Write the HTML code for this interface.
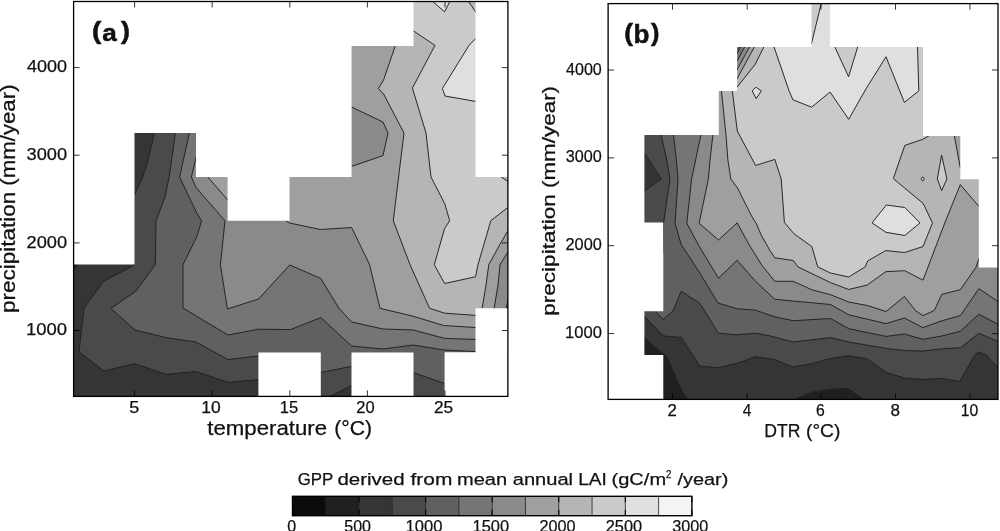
<!DOCTYPE html>
<html><head><meta charset="utf-8"><title>GPP contour plots</title>
<style>html,body{margin:0;padding:0;background:#fff;}body{width:1000px;height:531px;position:relative;overflow:hidden;font-family:"Liberation Sans",sans-serif;}</style></head>
<body>
<svg width="1000" height="531" viewBox="0 0 1000 531" style="display:block;position:absolute;left:0;top:0">
<rect width="1000" height="531" fill="#fff"/>
<clipPath id="ca"><rect x="73.6" y="1.5" width="434.29999999999995" height="394.9"/></clipPath>
<g clip-path="url(#ca)">
<polygon points="60.0,-10.0 530.0,-10.0 530.0,410.0 60.0,410.0" fill="#353535"/>
<polygon points="80.6,261.5 78.0,264.6 73.5,270.0 70.9,273.1 60.0,275.0 60.0,260.0" fill="#202020"/>
<polygon points="155.3,129.1 154.4,133.0 147.0,164.0 142.0,179.0 134.4,195.0 120.0,210.0 120.0,250.0 134.4,265.0 104.0,281.0 84.0,308.0 79.0,352.0 104.0,371.0 134.4,363.6 166.0,374.4 196.0,371.4 228.0,382.4 258.4,379.6 289.6,390.0 320.8,400.0 331.0,396.0 351.4,385.6 383.0,392.0 413.4,402.0 417.2,403.2 530.0,402.0 530.0,-10.0 154.4,-10.0" fill="#4a4a4a"/>
<polygon points="176.0,129.0 175.4,133.0 169.2,177.0 165.0,197.0 156.0,220.8 155.4,264.6 136.0,291.0 111.0,308.5 135.0,330.0 166.0,337.6 196.0,342.0 228.0,359.6 258.4,356.0 320.8,372.4 351.4,366.4 413.4,372.6 444.5,383.5 475.0,400.0 478.5,401.9 530.0,400.0 530.0,-10.0 175.4,-10.0" fill="#606060"/>
<polygon points="190.3,129.1 189.4,133.0 179.6,177.0 196.7,213.0 201.6,220.8 196.7,237.0 183.0,264.6 183.0,308.0 228.0,335.0 258.4,329.2 290.4,329.6 320.8,317.6 351.6,346.0 383.0,349.0 413.0,345.0 444.3,350.0 476.0,351.6 510.0,352.0 514.0,352.0 530.0,352.0 530.0,-10.0 189.4,-10.0" fill="#757575"/>
<polygon points="200.9,136.1 200.0,140.0 196.4,156.0 191.4,177.0 196.0,187.5 225.0,220.8 220.4,264.6 227.4,309.0 258.6,299.0 289.7,265.0 320.7,278.4 339.0,308.3 351.6,322.0 383.0,329.0 413.4,330.0 444.2,338.3 476.0,339.5 492.0,338.0 503.0,325.0 506.2,308.2 507.2,303.5 512.0,290.0 513.3,286.2 530.0,290.0 530.0,-10.0 200.0,-10.0" fill="#8a8a8a"/>
<polygon points="205.0,173.8 207.6,176.8 227.7,200.0 240.0,210.0 280.0,214.0 286.0,220.7 289.6,223.0 320.4,229.5 351.6,227.5 369.6,264.6 380.0,308.3 413.4,316.3 443.6,325.5 476.0,327.5 487.0,325.0 494.2,308.2 498.0,285.0 500.0,264.6 507.2,253.0 515.0,245.0 517.8,242.1 530.0,245.0 530.0,-10.0 207.6,-10.0" fill="#9f9f9f"/>
<polygon points="340.0,110.0 351.6,107.0 383.0,122.0 388.0,133.0 383.0,155.6 351.6,166.4 340.0,160.0" fill="#8a8a8a"/>
<polygon points="396.7,41.6 395.4,45.4 383.6,80.0 378.4,88.5 383.6,94.0 404.0,133.0 398.6,177.0 393.3,220.8 410.0,264.6 429.5,308.2 444.6,313.2 476.0,315.4 479.0,314.0 482.2,308.2 486.0,285.0 488.8,264.6 499.6,245.0 507.2,232.0 515.0,222.0 517.5,218.8 530.0,222.0 530.0,-10.0 395.4,-10.0" fill="#b5b5b5"/>
<polygon points="401.7,22.7 405.0,25.0 413.6,31.0 435.0,45.4 412.4,88.0 426.0,133.0 431.0,177.0 444.7,203.6 449.7,220.7 444.6,228.5 434.3,264.6 444.6,283.5 475.5,276.8 478.0,264.6 490.8,220.7 507.2,208.0 515.0,202.0 518.2,199.6 530.0,202.0 530.0,-10.0 405.0,-10.0" fill="#cacaca"/>
<polygon points="497.8,174.6 501.1,176.9 508.0,181.6 511.3,183.9 515.0,186.0 515.0,170.0 501.0,170.0" fill="#b5b5b5"/>
<polygon points="488.0,27.3 485.0,30.0 475.6,38.6 469.0,45.4 442.4,88.5 445.0,96.0 475.6,101.4 485.0,103.0 488.9,103.7" fill="#dfdfdf"/>
<polygon points="428.0,-2.6 431.0,0.0 444.6,11.8 450.6,0.0 452.4,-3.6" fill="#dfdfdf"/>
<polygon points="465.1,-3.3 467.4,0.0 475.6,11.8 480.0,18.0 482.3,21.3 485.0,18.0 485.0,-5.0" fill="#b5b5b5"/>
<g stroke="#202020" stroke-width="0.95" stroke-linejoin="round">
<polygon points="60.0,-10.0 530.0,-10.0 530.0,410.0 60.0,410.0" fill="none"/>
<polyline points="80.6,261.5 78.0,264.6 73.5,270.0 70.9,273.1" fill="none"/>
<polyline points="155.3,129.1 154.4,133.0 147.0,164.0 142.0,179.0 134.4,195.0 120.0,210.0 120.0,250.0 134.4,265.0 104.0,281.0 84.0,308.0 79.0,352.0 104.0,371.0 134.4,363.6 166.0,374.4 196.0,371.4 228.0,382.4 258.4,379.6 289.6,390.0 320.8,400.0 331.0,396.0 351.4,385.6 383.0,392.0 413.4,402.0 417.2,403.2" fill="none"/>
<polyline points="176.0,129.0 175.4,133.0 169.2,177.0 165.0,197.0 156.0,220.8 155.4,264.6 136.0,291.0 111.0,308.5 135.0,330.0 166.0,337.6 196.0,342.0 228.0,359.6 258.4,356.0 320.8,372.4 351.4,366.4 413.4,372.6 444.5,383.5 475.0,400.0 478.5,401.9" fill="none"/>
<polyline points="190.3,129.1 189.4,133.0 179.6,177.0 196.7,213.0 201.6,220.8 196.7,237.0 183.0,264.6 183.0,308.0 228.0,335.0 258.4,329.2 290.4,329.6 320.8,317.6 351.6,346.0 383.0,349.0 413.0,345.0 444.3,350.0 476.0,351.6 510.0,352.0 514.0,352.0" fill="none"/>
<polyline points="200.9,136.1 200.0,140.0 196.4,156.0 191.4,177.0 196.0,187.5 225.0,220.8 220.4,264.6 227.4,309.0 258.6,299.0 289.7,265.0 320.7,278.4 339.0,308.3 351.6,322.0 383.0,329.0 413.4,330.0 444.2,338.3 476.0,339.5 492.0,338.0 503.0,325.0 506.2,308.2 507.2,303.5 512.0,290.0 513.3,286.2" fill="none"/>
<polyline points="205.0,173.8 207.6,176.8 227.7,200.0 240.0,210.0 280.0,214.0 286.0,220.7 289.6,223.0 320.4,229.5 351.6,227.5 369.6,264.6 380.0,308.3 413.4,316.3 443.6,325.5 476.0,327.5 487.0,325.0 494.2,308.2 498.0,285.0 500.0,264.6 507.2,253.0 515.0,245.0 517.8,242.1" fill="none"/>
<polygon points="340.0,110.0 351.6,107.0 383.0,122.0 388.0,133.0 383.0,155.6 351.6,166.4 340.0,160.0" fill="none"/>
<polyline points="396.7,41.6 395.4,45.4 383.6,80.0 378.4,88.5 383.6,94.0 404.0,133.0 398.6,177.0 393.3,220.8 410.0,264.6 429.5,308.2 444.6,313.2 476.0,315.4 479.0,314.0 482.2,308.2 486.0,285.0 488.8,264.6 499.6,245.0 507.2,232.0 515.0,222.0 517.5,218.8" fill="none"/>
<polyline points="401.7,22.7 405.0,25.0 413.6,31.0 435.0,45.4 412.4,88.0 426.0,133.0 431.0,177.0 444.7,203.6 449.7,220.7 444.6,228.5 434.3,264.6 444.6,283.5 475.5,276.8 478.0,264.6 490.8,220.7 507.2,208.0 515.0,202.0 518.2,199.6" fill="none"/>
<polyline points="497.8,174.6 501.1,176.9 508.0,181.6 511.3,183.9" fill="none"/>
<polyline points="488.0,27.3 485.0,30.0 475.6,38.6 469.0,45.4 442.4,88.5 445.0,96.0 475.6,101.4 485.0,103.0 488.9,103.7" fill="none"/>
<polyline points="428.0,-2.6 431.0,0.0 444.6,11.8 450.6,0.0 452.4,-3.6" fill="none"/>
<polyline points="465.1,-3.3 467.4,0.0 475.6,11.8 480.0,18.0 482.3,21.3" fill="none"/>
</g>
<g fill="#fff">
<polygon points="60.0,-10.0 413.5,-10.0 413.5,46.0 351.6,46.0 351.6,177.0 289.5,177.0 289.5,220.7 227.6,220.7 227.6,177.0 196.0,177.0 196.0,133.0 134.5,133.0 134.5,264.5 60.0,264.5"/>
<polygon points="475.5,-10.0 520.0,-10.0 520.0,177.0 475.5,177.0"/>
<polygon points="475.5,308.3 520.0,308.3 520.0,410.0 444.6,410.0 444.6,352.2 475.5,352.2"/>
<polygon points="351.5,352.4 413.5,352.4 413.5,410.0 351.5,410.0"/>
<polygon points="258.4,352.4 320.8,352.4 320.8,410.0 258.4,410.0"/>
</g>
</g>
<clipPath id="cb"><rect x="608.1" y="3.6" width="389.9" height="395.79999999999995"/></clipPath>
<g clip-path="url(#cb)">
<polygon points="590.0,-10.0 1010.0,-10.0 1010.0,410.0 590.0,410.0" fill="#202020"/>
<polygon points="627.0,322.8 630.0,325.4 644.5,338.0 663.3,354.3 666.7,356.8 681.2,389.7 687.4,398.8 691.0,405.0 693.0,408.5 1010.0,405.0 1010.0,-10.0 630.0,-10.0" fill="#353535"/>
<polygon points="790.9,408.4 793.0,405.0 796.8,398.8 811.2,392.4 830.4,389.2 848.0,388.4 862.4,398.8 868.0,405.0 870.7,408.0" fill="#202020"/>
<polygon points="627.2,298.1 630.0,301.0 644.5,316.3 663.3,336.0 681.2,337.4 699.7,366.0 718.5,367.7 736.4,363.4 755.8,356.8 774.4,359.6 793.0,367.0 811.4,363.7 830.4,358.5 848.3,355.9 867.2,358.8 886.2,372.4 904.7,378.0 922.8,379.5 941.4,378.3 959.5,381.6 975.2,354.5 979.0,352.0 986.6,355.4 998.0,367.7 1010.0,380.0 1012.8,382.9 1010.0,-10.0 630.0,-10.0" fill="#4a4a4a"/>
<polygon points="633.8,136.6 636.0,140.0 644.4,153.0 661.2,179.0 644.4,191.2 636.0,197.0 632.7,199.3" fill="#353535"/>
<polygon points="660.3,131.2 661.2,135.1 666.8,160.0 670.0,179.0 663.5,223.3 663.2,253.0 650.0,270.0 650.0,300.0 655.6,311.3 663.0,319.5 673.0,310.8 681.2,291.3 699.6,303.0 718.5,333.2 736.4,334.8 755.2,333.2 770.0,335.9 793.2,342.0 830.5,337.7 848.7,342.0 886.0,348.4 904.4,350.5 922.8,351.1 942.7,348.7 960.4,347.8 978.9,333.3 998.5,341.6 1010.0,346.5 1013.7,348.1 1010.0,-10.0 661.2,-10.0" fill="#606060"/>
<polygon points="673.0,131.1 673.5,135.1 676.4,160.0 678.0,179.0 675.1,223.3 681.2,244.6 699.6,272.6 718.0,303.0 736.4,308.6 755.6,310.2 774.0,316.6 793.2,320.7 830.5,318.5 848.7,328.7 886.0,336.4 904.4,334.0 922.8,339.3 941.8,336.0 960.4,331.2 978.9,314.2 998.5,324.6 1010.0,330.0 1013.6,331.7 1010.0,-10.0 673.5,-10.0" fill="#757575"/>
<polygon points="701.7,131.2 700.9,135.1 695.6,160.0 691.6,179.0 686.8,223.3 699.6,247.0 718.5,278.2 737.2,260.3 755.6,281.4 774.8,299.3 830.5,304.5 848.7,314.8 886.0,323.6 904.4,318.0 922.8,327.6 941.8,320.8 960.4,315.6 978.9,288.7 998.5,301.8 1010.0,309.0 1013.4,311.1 1010.0,-10.0 700.9,-10.0" fill="#8a8a8a"/>
<polygon points="713.4,131.1 712.9,135.1 710.0,160.0 708.4,179.0 699.1,223.3 718.5,239.9 737.2,222.9 749.2,244.8 762.0,265.4 774.8,281.3 793.2,281.3 811.9,289.8 830.5,294.7 848.7,302.0 867.3,305.5 886.1,311.5 904.4,296.5 915.4,310.6 923.1,315.6 934.3,310.5 941.8,294.3 960.4,289.7 976.0,267.2 978.9,258.7 985.0,245.0 986.6,241.3 1010.0,245.0 1010.0,-10.0 712.9,-10.0" fill="#9f9f9f"/>
<polygon points="720.1,78.0 720.5,82.0 721.5,91.4 726.0,135.1 727.9,160.0 730.8,179.0 737.5,188.0 751.6,216.0 756.5,224.0 761.2,235.0 770.0,250.6 774.8,257.8 793.2,260.5 798.0,266.9 830.5,282.6 848.7,289.5 867.3,285.0 885.7,271.7 904.7,270.7 923.0,280.1 944.8,222.9 960.3,184.6 978.7,206.2 987.0,215.0 987.0,150.0 960.3,167.8 954.4,136.0 952.0,122.0 951.3,118.1 952.0,-10.0 720.5,-10.0" fill="#b5b5b5"/>
<polygon points="730.9,79.0 731.4,83.0 732.4,91.4 737.3,131.0 755.6,165.5 774.8,159.4 781.2,179.0 784.4,222.4 794.0,233.8 811.9,246.6 817.7,266.9 830.5,273.0 848.7,277.0 865.2,266.9 867.6,261.0 885.7,250.6 904.7,252.5 923.0,246.5 932.5,222.9 923.2,203.5 893.3,178.6 904.8,145.4 922.9,139.3 928.8,136.0 936.0,128.0 938.7,125.0 936.0,-10.0 731.4,-10.0" fill="#cacaca"/>
<polygon points="941.6,155.0 946.9,178.9 941.6,190.6 937.3,178.9" fill="#cacaca"/>
<polygon points="924.1,178.9 923.9,179.8 923.4,180.5 922.7,180.7 922.0,180.5 921.5,179.8 921.3,178.9 921.5,178.0 922.0,177.3 922.7,177.1 923.4,177.3 923.9,178.0" fill="#cacaca"/>
<polygon points="763.8,47.0 755.2,64.4 737.0,87.2 732.4,91.4 725.0,91.0 725.0,40.0 763.8,40.0" fill="#b5b5b5"/>
<polygon points="756.2,43.5 754.3,47.0 737.0,78.9 735.1,82.4 725.0,85.0 725.0,40.0" fill="#9f9f9f"/>
<polygon points="751.4,43.5 749.5,47.0 737.0,69.7 735.1,73.2 725.0,75.0 725.0,40.0" fill="#8a8a8a"/>
<polygon points="746.6,43.5 744.7,47.0 737.0,61.0 735.1,64.5 725.0,66.0 725.0,40.0" fill="#757575"/>
<polygon points="742.7,43.6 740.7,47.0 737.0,53.2 735.0,56.6 725.0,58.0 725.0,40.0" fill="#606060"/>
<polygon points="822.0,-2.0 821.1,4.0 811.5,43.5 800.0,40.0 774.0,46.9 789.2,91.2 792.9,99.7 811.6,107.2 830.0,92.0 848.7,119.3 866.0,88.8 886.0,56.8 904.4,102.4 918.8,90.9 917.5,46.9 917.4,30.0 840.0,30.0 840.0,-10.0" fill="#dfdfdf"/>
<polygon points="832.5,42.0 834.8,46.9 848.6,76.8 857.7,46.9 859.0,42.0" fill="#cacaca"/>
<polygon points="872.0,222.9 886.4,205.0 904.8,207.5 920.0,222.9 904.8,235.5 886.0,232.3" fill="#dfdfdf"/>
<polygon points="755.9,87.2 761.4,90.9 756.1,98.6 752.2,90.9" fill="#dfdfdf"/>
<g stroke="#202020" stroke-width="0.95" stroke-linejoin="round">
<polygon points="590.0,-10.0 1010.0,-10.0 1010.0,410.0 590.0,410.0" fill="none"/>
<polyline points="627.0,322.8 630.0,325.4 644.5,338.0 663.3,354.3 666.7,356.8 681.2,389.7 687.4,398.8 691.0,405.0 693.0,408.5" fill="none"/>
<polyline points="790.9,408.4 793.0,405.0 796.8,398.8 811.2,392.4 830.4,389.2 848.0,388.4 862.4,398.8 868.0,405.0 870.7,408.0" fill="none"/>
<polyline points="627.2,298.1 630.0,301.0 644.5,316.3 663.3,336.0 681.2,337.4 699.7,366.0 718.5,367.7 736.4,363.4 755.8,356.8 774.4,359.6 793.0,367.0 811.4,363.7 830.4,358.5 848.3,355.9 867.2,358.8 886.2,372.4 904.7,378.0 922.8,379.5 941.4,378.3 959.5,381.6 975.2,354.5 979.0,352.0 986.6,355.4 998.0,367.7 1010.0,380.0 1012.8,382.9" fill="none"/>
<polyline points="633.8,136.6 636.0,140.0 644.4,153.0 661.2,179.0 644.4,191.2 636.0,197.0 632.7,199.3" fill="none"/>
<polyline points="660.3,131.2 661.2,135.1 666.8,160.0 670.0,179.0 663.5,223.3 663.2,253.0 650.0,270.0 650.0,300.0 655.6,311.3 663.0,319.5 673.0,310.8 681.2,291.3 699.6,303.0 718.5,333.2 736.4,334.8 755.2,333.2 770.0,335.9 793.2,342.0 830.5,337.7 848.7,342.0 886.0,348.4 904.4,350.5 922.8,351.1 942.7,348.7 960.4,347.8 978.9,333.3 998.5,341.6 1010.0,346.5 1013.7,348.1" fill="none"/>
<polyline points="673.0,131.1 673.5,135.1 676.4,160.0 678.0,179.0 675.1,223.3 681.2,244.6 699.6,272.6 718.0,303.0 736.4,308.6 755.6,310.2 774.0,316.6 793.2,320.7 830.5,318.5 848.7,328.7 886.0,336.4 904.4,334.0 922.8,339.3 941.8,336.0 960.4,331.2 978.9,314.2 998.5,324.6 1010.0,330.0 1013.6,331.7" fill="none"/>
<polyline points="701.7,131.2 700.9,135.1 695.6,160.0 691.6,179.0 686.8,223.3 699.6,247.0 718.5,278.2 737.2,260.3 755.6,281.4 774.8,299.3 830.5,304.5 848.7,314.8 886.0,323.6 904.4,318.0 922.8,327.6 941.8,320.8 960.4,315.6 978.9,288.7 998.5,301.8 1010.0,309.0 1013.4,311.1" fill="none"/>
<polyline points="713.4,131.1 712.9,135.1 710.0,160.0 708.4,179.0 699.1,223.3 718.5,239.9 737.2,222.9 749.2,244.8 762.0,265.4 774.8,281.3 793.2,281.3 811.9,289.8 830.5,294.7 848.7,302.0 867.3,305.5 886.1,311.5 904.4,296.5 915.4,310.6 923.1,315.6 934.3,310.5 941.8,294.3 960.4,289.7 976.0,267.2 978.9,258.7 985.0,245.0 986.6,241.3" fill="none"/>
<polyline points="720.1,78.0 720.5,82.0 721.5,91.4 726.0,135.1 727.9,160.0 730.8,179.0 737.5,188.0 751.6,216.0 756.5,224.0 761.2,235.0 770.0,250.6 774.8,257.8 793.2,260.5 798.0,266.9 830.5,282.6 848.7,289.5 867.3,285.0 885.7,271.7 904.7,270.7 923.0,280.1 944.8,222.9 960.3,184.6 978.7,206.2 987.0,215.0 987.0,150.0 960.3,167.8 954.4,136.0 952.0,122.0 951.3,118.1" fill="none"/>
<polyline points="730.9,79.0 731.4,83.0 732.4,91.4 737.3,131.0 755.6,165.5 774.8,159.4 781.2,179.0 784.4,222.4 794.0,233.8 811.9,246.6 817.7,266.9 830.5,273.0 848.7,277.0 865.2,266.9 867.6,261.0 885.7,250.6 904.7,252.5 923.0,246.5 932.5,222.9 923.2,203.5 893.3,178.6 904.8,145.4 922.9,139.3 928.8,136.0 936.0,128.0 938.7,125.0" fill="none"/>
<polygon points="941.6,155.0 946.9,178.9 941.6,190.6 937.3,178.9" fill="none"/>
<polygon points="924.1,178.9 923.9,179.8 923.4,180.5 922.7,180.7 922.0,180.5 921.5,179.8 921.3,178.9 921.5,178.0 922.0,177.3 922.7,177.1 923.4,177.3 923.9,178.0" fill="none"/>
<polyline points="763.8,47.0 755.2,64.4 737.0,87.2 732.4,91.4" fill="none"/>
<polyline points="756.2,43.5 754.3,47.0 737.0,78.9 735.1,82.4" fill="none"/>
<polyline points="751.4,43.5 749.5,47.0 737.0,69.7 735.1,73.2" fill="none"/>
<polyline points="746.6,43.5 744.7,47.0 737.0,61.0 735.1,64.5" fill="none"/>
<polyline points="742.7,43.6 740.7,47.0 737.0,53.2 735.0,56.6" fill="none"/>
<polyline points="822.0,-2.0 821.1,4.0 811.5,43.5 800.0,40.0 774.0,46.9 789.2,91.2 792.9,99.7 811.6,107.2 830.0,92.0 848.7,119.3 866.0,88.8 886.0,56.8 904.4,102.4 918.8,90.9 917.5,46.9 917.4,30.0" fill="none"/>
<polyline points="832.5,42.0 834.8,46.9 848.6,76.8 857.7,46.9 859.0,42.0" fill="none"/>
<polygon points="872.0,222.9 886.4,205.0 904.8,207.5 920.0,222.9 904.8,235.5 886.0,232.3" fill="none"/>
<polygon points="755.9,87.2 761.4,90.9 756.1,98.6 752.2,90.9" fill="none"/>
</g>
<g fill="#fff">
<polygon points="590.0,-10.0 811.5,-10.0 811.5,47.0 737.1,47.0 737.1,91.0 718.8,91.0 718.8,135.1 644.4,135.1 644.4,222.4 663.3,222.4 663.3,311.2 644.4,311.2 644.4,354.9 663.3,354.9 663.3,410.0 590.0,410.0"/>
<polygon points="830.0,-10.0 1010.0,-10.0 1010.0,267.4 978.8,267.4 978.8,179.3 960.3,179.3 960.3,136.0 923.0,136.0 923.0,47.0 830.0,47.0"/>
</g>
</g>
<rect x="73.6" y="1.5" width="434.29999999999995" height="394.9" fill="none" stroke="#000" stroke-width="1.3"/>
<g stroke="#000" stroke-width="0.8">
<line x1="134.6" y1="396.4" x2="134.6" y2="390.4"/>
<line x1="134.6" y1="1.5" x2="134.6" y2="7.5"/>
<line x1="212.2" y1="396.4" x2="212.2" y2="390.4"/>
<line x1="212.2" y1="1.5" x2="212.2" y2="7.5"/>
<line x1="289.8" y1="396.4" x2="289.8" y2="390.4"/>
<line x1="289.8" y1="1.5" x2="289.8" y2="7.5"/>
<line x1="367.4" y1="396.4" x2="367.4" y2="390.4"/>
<line x1="367.4" y1="1.5" x2="367.4" y2="7.5"/>
<line x1="445.0" y1="396.4" x2="445.0" y2="390.4"/>
<line x1="445.0" y1="1.5" x2="445.0" y2="7.5"/>
<line x1="73.6" y1="67.6" x2="79.6" y2="67.6"/>
<line x1="507.9" y1="67.6" x2="501.9" y2="67.6"/>
<line x1="73.6" y1="155.2" x2="79.6" y2="155.2"/>
<line x1="507.9" y1="155.2" x2="501.9" y2="155.2"/>
<line x1="73.6" y1="242.9" x2="79.6" y2="242.9"/>
<line x1="507.9" y1="242.9" x2="501.9" y2="242.9"/>
<line x1="73.6" y1="330.5" x2="79.6" y2="330.5"/>
<line x1="507.9" y1="330.5" x2="501.9" y2="330.5"/>
</g>
<rect x="608.1" y="3.6" width="389.9" height="395.79999999999995" fill="none" stroke="#000" stroke-width="1.3"/>
<g stroke="#000" stroke-width="0.8">
<line x1="672.5" y1="399.4" x2="672.5" y2="393.4"/>
<line x1="672.5" y1="3.6" x2="672.5" y2="9.6"/>
<line x1="747.2" y1="399.4" x2="747.2" y2="393.4"/>
<line x1="747.2" y1="3.6" x2="747.2" y2="9.6"/>
<line x1="821.0" y1="399.4" x2="821.0" y2="393.4"/>
<line x1="821.0" y1="3.6" x2="821.0" y2="9.6"/>
<line x1="895.5" y1="399.4" x2="895.5" y2="393.4"/>
<line x1="895.5" y1="3.6" x2="895.5" y2="9.6"/>
<line x1="969.9" y1="399.4" x2="969.9" y2="393.4"/>
<line x1="969.9" y1="3.6" x2="969.9" y2="9.6"/>
<line x1="608.1" y1="70.0" x2="614.1" y2="70.0"/>
<line x1="998.0" y1="70.0" x2="992.0" y2="70.0"/>
<line x1="608.1" y1="157.9" x2="614.1" y2="157.9"/>
<line x1="998.0" y1="157.9" x2="992.0" y2="157.9"/>
<line x1="608.1" y1="245.7" x2="614.1" y2="245.7"/>
<line x1="998.0" y1="245.7" x2="992.0" y2="245.7"/>
<line x1="608.1" y1="333.6" x2="614.1" y2="333.6"/>
<line x1="998.0" y1="333.6" x2="992.0" y2="333.6"/>
</g>
<rect x="292.50" y="496.3" width="33.58" height="19.4" fill="#0b0b0b"/>
<rect x="325.78" y="496.3" width="33.58" height="19.4" fill="#202020"/>
<rect x="359.07" y="496.3" width="33.58" height="19.4" fill="#353535"/>
<rect x="392.35" y="496.3" width="33.58" height="19.4" fill="#4a4a4a"/>
<rect x="425.63" y="496.3" width="33.58" height="19.4" fill="#606060"/>
<rect x="458.92" y="496.3" width="33.58" height="19.4" fill="#757575"/>
<rect x="492.20" y="496.3" width="33.58" height="19.4" fill="#8a8a8a"/>
<rect x="525.48" y="496.3" width="33.58" height="19.4" fill="#9f9f9f"/>
<rect x="558.77" y="496.3" width="33.58" height="19.4" fill="#b5b5b5"/>
<rect x="592.05" y="496.3" width="33.58" height="19.4" fill="#cacaca"/>
<rect x="625.33" y="496.3" width="33.58" height="19.4" fill="#dfdfdf"/>
<rect x="658.62" y="496.3" width="33.58" height="19.4" fill="#f4f4f4"/>
<g stroke="#202020" stroke-width="0.8">
<line x1="325.78" y1="496.3" x2="325.78" y2="515.7"/>
<line x1="359.07" y1="496.3" x2="359.07" y2="515.7"/>
<line x1="392.35" y1="496.3" x2="392.35" y2="515.7"/>
<line x1="425.63" y1="496.3" x2="425.63" y2="515.7"/>
<line x1="458.92" y1="496.3" x2="458.92" y2="515.7"/>
<line x1="492.20" y1="496.3" x2="492.20" y2="515.7"/>
<line x1="525.48" y1="496.3" x2="525.48" y2="515.7"/>
<line x1="558.77" y1="496.3" x2="558.77" y2="515.7"/>
<line x1="592.05" y1="496.3" x2="592.05" y2="515.7"/>
<line x1="625.33" y1="496.3" x2="625.33" y2="515.7"/>
<line x1="658.62" y1="496.3" x2="658.62" y2="515.7"/>
</g>
<g stroke="#000" stroke-width="1.1">
<line x1="292.50" y1="496.3" x2="292.50" y2="502.3"/>
<line x1="292.50" y1="515.7" x2="292.50" y2="509.70000000000005"/>
<line x1="359.07" y1="496.3" x2="359.07" y2="502.3"/>
<line x1="359.07" y1="515.7" x2="359.07" y2="509.70000000000005"/>
<line x1="425.63" y1="496.3" x2="425.63" y2="502.3"/>
<line x1="425.63" y1="515.7" x2="425.63" y2="509.70000000000005"/>
<line x1="492.20" y1="496.3" x2="492.20" y2="502.3"/>
<line x1="492.20" y1="515.7" x2="492.20" y2="509.70000000000005"/>
<line x1="558.77" y1="496.3" x2="558.77" y2="502.3"/>
<line x1="558.77" y1="515.7" x2="558.77" y2="509.70000000000005"/>
<line x1="625.33" y1="496.3" x2="625.33" y2="502.3"/>
<line x1="625.33" y1="515.7" x2="625.33" y2="509.70000000000005"/>
<line x1="691.90" y1="496.3" x2="691.90" y2="502.3"/>
<line x1="691.90" y1="515.7" x2="691.90" y2="509.70000000000005"/>
</g>
<rect x="292.5" y="496.3" width="399.4" height="19.4" fill="none" stroke="#000" stroke-width="1.4"/>
<g style="filter:grayscale(1)">
<text x="27.0" y="72.2" font-size="16.7" font-family="Liberation Sans, sans-serif" text-anchor="start" textLength="40.03" lengthAdjust="spacingAndGlyphs" fill="#111" stroke="#111" stroke-width="0.25">4000</text>
<text x="26.5" y="159.85" font-size="16.7" font-family="Liberation Sans, sans-serif" text-anchor="start" textLength="40.55" lengthAdjust="spacingAndGlyphs" fill="#111" stroke="#111" stroke-width="0.25">3000</text>
<text x="26.5" y="247.5" font-size="16.7" font-family="Liberation Sans, sans-serif" text-anchor="start" textLength="40.56" lengthAdjust="spacingAndGlyphs" fill="#111" stroke="#111" stroke-width="0.25">2000</text>
<text x="26.0" y="335.15" font-size="16.7" font-family="Liberation Sans, sans-serif" text-anchor="start" textLength="41.11" lengthAdjust="spacingAndGlyphs" fill="#111" stroke="#111" stroke-width="0.25">1000</text>
<text x="129.25" y="413.0" font-size="16.7" font-family="Liberation Sans, sans-serif" text-anchor="start" textLength="10.02" lengthAdjust="spacingAndGlyphs" fill="#111" stroke="#111" stroke-width="0.25">5</text>
<text x="201.25" y="413.0" font-size="16.7" font-family="Liberation Sans, sans-serif" text-anchor="start" textLength="19.45" lengthAdjust="spacingAndGlyphs" fill="#111" stroke="#111" stroke-width="0.25">10</text>
<text x="279.75" y="413.0" font-size="16.7" font-family="Liberation Sans, sans-serif" text-anchor="start" textLength="18.46" lengthAdjust="spacingAndGlyphs" fill="#111" stroke="#111" stroke-width="0.25">15</text>
<text x="356.25" y="413.0" font-size="16.7" font-family="Liberation Sans, sans-serif" text-anchor="start" textLength="18.35" lengthAdjust="spacingAndGlyphs" fill="#111" stroke="#111" stroke-width="0.25">20</text>
<text x="434.0" y="413.0" font-size="16.7" font-family="Liberation Sans, sans-serif" text-anchor="start" textLength="19.14" lengthAdjust="spacingAndGlyphs" fill="#111" stroke="#111" stroke-width="0.25">25</text>
<text x="207.25" y="434.5" font-size="19.7" font-family="Liberation Sans, sans-serif" text-anchor="start" textLength="119.77" lengthAdjust="spacingAndGlyphs" fill="#111" stroke="#111" stroke-width="0.25">temperature</text>
<text x="334.25" y="434.5" font-size="19.7" font-family="Liberation Sans, sans-serif" text-anchor="start" textLength="37.92" lengthAdjust="spacingAndGlyphs" fill="#111" stroke="#111" stroke-width="0.25">(°C)</text>
<text x="14.9" y="313.0" font-size="19.7" font-family="Liberation Sans, sans-serif" text-anchor="start" textLength="121.32" lengthAdjust="spacingAndGlyphs" transform="rotate(-90 14.9 313.0)" fill="#111" stroke="#111" stroke-width="0.25">precipitation</text>
<text x="14.9" y="185.75" font-size="19.7" font-family="Liberation Sans, sans-serif" text-anchor="start" textLength="101.32" lengthAdjust="spacingAndGlyphs" transform="rotate(-90 14.9 185.75)" fill="#111" stroke="#111" stroke-width="0.25">(mm/year)</text>
<text x="92.0" y="39.0" font-size="23.0" font-family="Liberation Sans, sans-serif" text-anchor="start" font-weight="bold" textLength="9.31" lengthAdjust="spacingAndGlyphs" fill="#111" stroke="#111" stroke-width="0.5">(</text>
<text x="102.25" y="40.8" font-size="24.8" font-family="Liberation Sans, sans-serif" text-anchor="start" font-weight="bold" textLength="14.52" lengthAdjust="spacingAndGlyphs" fill="#111" stroke="#111" stroke-width="0.5">a</text>
<text x="121.0" y="39.0" font-size="23.0" font-family="Liberation Sans, sans-serif" text-anchor="start" font-weight="bold" textLength="8.95" lengthAdjust="spacingAndGlyphs" fill="#111" stroke="#111" stroke-width="0.5">)</text>
<text x="566.0" y="74.6" font-size="16.7" font-family="Liberation Sans, sans-serif" text-anchor="start" textLength="35.78" lengthAdjust="spacingAndGlyphs" fill="#111" stroke="#111" stroke-width="0.25">4000</text>
<text x="565.75" y="162.47" font-size="16.7" font-family="Liberation Sans, sans-serif" text-anchor="start" textLength="36.05" lengthAdjust="spacingAndGlyphs" fill="#111" stroke="#111" stroke-width="0.25">3000</text>
<text x="565.5" y="250.34" font-size="16.7" font-family="Liberation Sans, sans-serif" text-anchor="start" textLength="36.31" lengthAdjust="spacingAndGlyphs" fill="#111" stroke="#111" stroke-width="0.25">2000</text>
<text x="565.0" y="338.21" font-size="16.7" font-family="Liberation Sans, sans-serif" text-anchor="start" textLength="36.86" lengthAdjust="spacingAndGlyphs" fill="#111" stroke="#111" stroke-width="0.25">1000</text>
<text x="667.5" y="416.1" font-size="16.7" font-family="Liberation Sans, sans-serif" text-anchor="start" textLength="9.31" lengthAdjust="spacingAndGlyphs" fill="#111" stroke="#111" stroke-width="0.25">2</text>
<text x="742.75" y="416.1" font-size="16.7" font-family="Liberation Sans, sans-serif" text-anchor="start" textLength="8.58" lengthAdjust="spacingAndGlyphs" fill="#111" stroke="#111" stroke-width="0.25">4</text>
<text x="816.0" y="416.1" font-size="16.7" font-family="Liberation Sans, sans-serif" text-anchor="start" textLength="8.76" lengthAdjust="spacingAndGlyphs" fill="#111" stroke="#111" stroke-width="0.25">6</text>
<text x="890.5" y="416.1" font-size="16.7" font-family="Liberation Sans, sans-serif" text-anchor="start" textLength="9.48" lengthAdjust="spacingAndGlyphs" fill="#111" stroke="#111" stroke-width="0.25">8</text>
<text x="960.75" y="416.1" font-size="16.7" font-family="Liberation Sans, sans-serif" text-anchor="start" textLength="17.44" lengthAdjust="spacingAndGlyphs" fill="#111" stroke="#111" stroke-width="0.25">10</text>
<text x="764.25" y="437.4" font-size="19.0" font-family="Liberation Sans, sans-serif" text-anchor="start" textLength="36.14" lengthAdjust="spacingAndGlyphs" fill="#111" stroke="#111" stroke-width="0.25">DTR</text>
<text x="806.0" y="437.4" font-size="19.0" font-family="Liberation Sans, sans-serif" text-anchor="start" textLength="34.42" lengthAdjust="spacingAndGlyphs" fill="#111" stroke="#111" stroke-width="0.25">(°C)</text>
<text x="555.0" y="315.75" font-size="17.6" font-family="Liberation Sans, sans-serif" text-anchor="start" textLength="121.57" lengthAdjust="spacingAndGlyphs" transform="rotate(-90 555.0 315.75)" fill="#111" stroke="#111" stroke-width="0.25">precipitation</text>
<text x="555.0" y="188.0" font-size="17.6" font-family="Liberation Sans, sans-serif" text-anchor="start" textLength="102.07" lengthAdjust="spacingAndGlyphs" transform="rotate(-90 555.0 188.0)" fill="#111" stroke="#111" stroke-width="0.25">(mm/year)</text>
<text x="624.25" y="40.8" font-size="23.3" font-family="Liberation Sans, sans-serif" text-anchor="start" font-weight="bold" textLength="8.76" lengthAdjust="spacingAndGlyphs" fill="#111" stroke="#111" stroke-width="0.5">(</text>
<text x="633.5" y="42.7" font-size="26.0" font-family="Liberation Sans, sans-serif" text-anchor="start" font-weight="bold" textLength="15.96" lengthAdjust="spacingAndGlyphs" fill="#111" stroke="#111" stroke-width="0.5">b</text>
<text x="651.0" y="40.8" font-size="23.3" font-family="Liberation Sans, sans-serif" text-anchor="start" font-weight="bold" textLength="8.46" lengthAdjust="spacingAndGlyphs" fill="#111" stroke="#111" stroke-width="0.5">)</text>
<text x="297.75" y="484.5" font-size="17.2" font-family="Liberation Sans, sans-serif" text-anchor="start" textLength="35.58" lengthAdjust="spacingAndGlyphs" fill="#111" stroke="#111" stroke-width="0.25">GPP</text>
<text x="337.5" y="484.5" font-size="17.2" font-family="Liberation Sans, sans-serif" text-anchor="start" textLength="67.07" lengthAdjust="spacingAndGlyphs" fill="#111" stroke="#111" stroke-width="0.25">derived</text>
<text x="410.5" y="484.5" font-size="17.2" font-family="Liberation Sans, sans-serif" text-anchor="start" textLength="41.81" lengthAdjust="spacingAndGlyphs" fill="#111" stroke="#111" stroke-width="0.25">from</text>
<text x="457.0" y="484.5" font-size="17.2" font-family="Liberation Sans, sans-serif" text-anchor="start" textLength="50.14" lengthAdjust="spacingAndGlyphs" fill="#111" stroke="#111" stroke-width="0.25">mean</text>
<text x="512.75" y="484.5" font-size="17.2" font-family="Liberation Sans, sans-serif" text-anchor="start" textLength="60.33" lengthAdjust="spacingAndGlyphs" fill="#111" stroke="#111" stroke-width="0.25">annual</text>
<text x="578.25" y="484.5" font-size="17.2" font-family="Liberation Sans, sans-serif" text-anchor="start" textLength="28.63" lengthAdjust="spacingAndGlyphs" fill="#111" stroke="#111" stroke-width="0.25">LAI</text>
<text x="611.5" y="484.5" font-size="17.2" font-family="Liberation Sans, sans-serif" text-anchor="start" textLength="54.61" lengthAdjust="spacingAndGlyphs" fill="#111" stroke="#111" stroke-width="0.25">(gC/m</text>
<text x="677.5" y="484.5" font-size="17.2" font-family="Liberation Sans, sans-serif" text-anchor="start" textLength="50.78" lengthAdjust="spacingAndGlyphs" fill="#111" stroke="#111" stroke-width="0.25">/year)</text>
<text x="666.0" y="477.7" font-size="10.2" font-family="Liberation Sans, sans-serif" text-anchor="start" textLength="5.4" lengthAdjust="spacingAndGlyphs" fill="#111" stroke="#111" stroke-width="0.25">2</text>
<text x="287.25" y="532.4" font-size="16.7" font-family="Liberation Sans, sans-serif" text-anchor="start" textLength="8.9" lengthAdjust="spacingAndGlyphs" fill="#111" stroke="#111" stroke-width="0.25">0</text>
<text x="344.25" y="532.4" font-size="16.7" font-family="Liberation Sans, sans-serif" text-anchor="start" textLength="26.81" lengthAdjust="spacingAndGlyphs" fill="#111" stroke="#111" stroke-width="0.25">500</text>
<text x="405.5" y="532.4" font-size="16.7" font-family="Liberation Sans, sans-serif" text-anchor="start" textLength="36.86" lengthAdjust="spacingAndGlyphs" fill="#111" stroke="#111" stroke-width="0.25">1000</text>
<text x="472.5" y="532.4" font-size="16.7" font-family="Liberation Sans, sans-serif" text-anchor="start" textLength="36.59" lengthAdjust="spacingAndGlyphs" fill="#111" stroke="#111" stroke-width="0.25">1500</text>
<text x="539.5" y="532.4" font-size="16.7" font-family="Liberation Sans, sans-serif" text-anchor="start" textLength="36.05" lengthAdjust="spacingAndGlyphs" fill="#111" stroke="#111" stroke-width="0.25">2000</text>
<text x="605.75" y="532.4" font-size="16.7" font-family="Liberation Sans, sans-serif" text-anchor="start" textLength="36.32" lengthAdjust="spacingAndGlyphs" fill="#111" stroke="#111" stroke-width="0.25">2500</text>
<text x="672.25" y="532.4" font-size="16.7" font-family="Liberation Sans, sans-serif" text-anchor="start" textLength="36.05" lengthAdjust="spacingAndGlyphs" fill="#111" stroke="#111" stroke-width="0.25">3000</text>
</g>
</svg>
</body></html>
